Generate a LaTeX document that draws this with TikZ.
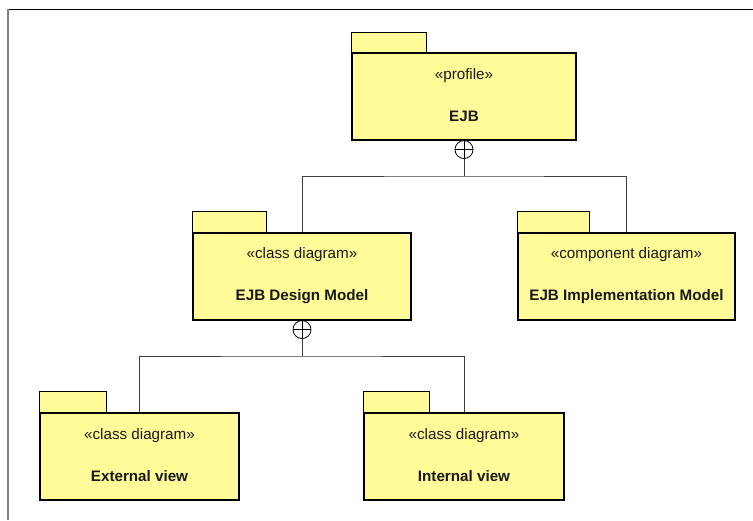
\documentclass[tikz,border=0pt]{standalone}
\usepackage{fontspec}
\setmainfont{Liberation Sans}
\definecolor{pkgfill}{RGB}{255,251,152}
\definecolor{wire}{RGB}{60,60,60}
\begin{document}
\begin{tikzpicture}[x=1pt,y=-1pt,
  body/.style={draw=black, line width=1.1pt, fill=pkgfill, minimum width=#1,
    minimum height=87pt, inner sep=0pt},
  tab/.style={draw=black, line width=1.1pt, fill=pkgfill},
  stereo/.style={font=\fontsize{15.2}{18}\selectfont, text=black!90, inner sep=0pt},
  pname/.style={font=\fontsize{15.2}{18}\selectfont\bfseries, text=black!90, inner sep=0pt},
  nest/.style={circle, draw=black, line width=0.8pt, fill=white, minimum size=18pt, inner sep=0pt},
  wireline/.style={draw=wire, line width=1pt}]
\useasboundingbox (0,0) rectangle (753,520);

% page frame
\draw[black, line width=1pt] (8,9) -- (753,9);
\draw[gray, line width=1.5pt] (8,9) -- (8,520);

% packages: body, tab and two lines of text
\node[body=224pt] (ejb) at (464,96.5) {};
\draw[tab] (ejb.north west) rectangle ++(75,-20);
\node[stereo] at ([yshift=-23pt]ejb.north) {«profile»};
\node[pname] at ([yshift=-64pt]ejb.north) {EJB};

\node[body=218pt] (design) at (302,276.5) {};
\draw[tab] (design.north west) rectangle ++(74,-21);
\node[stereo] at ([yshift=-22pt]design.north) {«class diagram»};
\node[pname] at ([yshift=-64pt]design.north) {EJB Design Model};

\node[body=217pt] (impl) at (626.5,276.5) {};
\draw[tab] (impl.north west) rectangle ++(72,-21);
\node[stereo] at ([yshift=-22pt]impl.north) {«component diagram»};
\node[pname] at ([yshift=-64pt]impl.north) {EJB Implementation Model};

\node[body=199pt] (ext) at (139.5,456.5) {};
\draw[tab] (ext.north west) rectangle ++(67,-21);
\node[stereo] at ([yshift=-23pt]ext.north) {«class diagram»};
\node[pname] at ([yshift=-64pt]ext.north) {External view};

\node[body=200pt] (int) at (464,456.5) {};
\draw[tab] (int.north west) rectangle ++(66,-21);
\node[stereo] at ([yshift=-23pt]int.north) {«class diagram»};
\node[pname] at ([yshift=-64pt]int.north) {Internal view};

% containment: EJB owns the two models
\node[nest] (n1) at ([yshift=-9pt]ejb.south) {};
\draw[black, line width=0.8pt] (n1.north) -- (n1.south) (n1.west) -- (n1.east);
\coordinate (b1) at (464,176);
\draw[wireline] (n1.south) -- (b1);
\draw[wireline] (design.north) |- (b1) -| (impl.north);

% containment: design model owns the two views
\node[nest] (n2) at ([yshift=-9pt]design.south) {};
\draw[black, line width=0.8pt] (n2.north) -- (n2.south) (n2.west) -- (n2.east);
\coordinate (b2) at (302,356);
\draw[wireline] (n2.south) -- (b2);
\draw[wireline] (ext.north) |- (b2) -| (int.north);
\end{tikzpicture}
\end{document}
